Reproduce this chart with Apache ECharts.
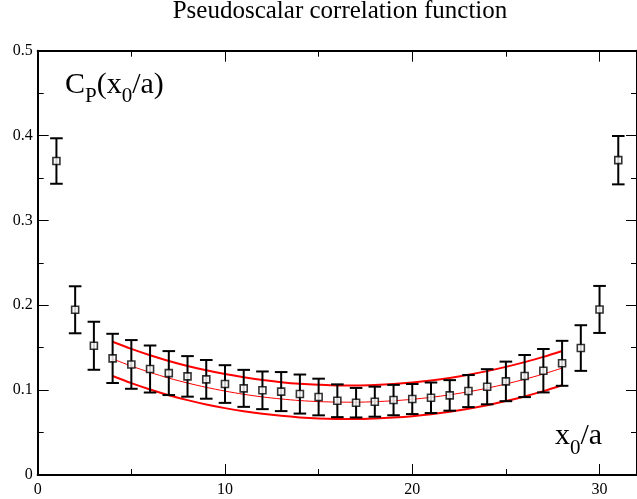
<!DOCTYPE html>
<html>
<head>
<meta charset="utf-8">
<script src="https://cdn.jsdelivr.net/npm/echarts@6/dist/echarts.min.js"></script>
<style>
html,body{margin:0;padding:0;background:#fff;}
#chart{width:637px;height:499px;}
</style>
</head>
<body>
<div id="chart"></div>
<script>
// ---- data ----
const titleText = 'Pseudoscalar correlation function';
const xs = [1,2,3,4,5,6,7,8,9,10,11,12,13,14,15,16,17,18,19,20,21,22,23,24,25,26,27,28,29,30,31];
const cp = [0.370,0.1947,0.1523,0.1374,0.1303,0.1249,0.1201,0.1162,0.1127,0.1072,0.1021,0.0998,0.0983,0.0954,0.0919,0.0875,0.0852,0.0864,0.0883,0.0895,0.0910,0.0938,0.0989,0.1040,0.1103,0.1166,0.1229,0.1316,0.1496,0.1951,0.371];
const err = [0.0268,0.0277,0.0283,0.0290,0.0287,0.0277,0.0259,0.0239,0.0228,0.0222,0.0218,0.0222,0.0230,0.0230,0.0216,0.0193,0.0174,0.0177,0.0179,0.0177,0.0180,0.0180,0.0189,0.0207,0.0233,0.0248,0.0256,0.0265,0.0269,0.0277,0.0285];
const fitX = [4,5,6,7,8,9,10,11,12,13,14,15,16,17,18,19,20,21,22,23,24,25,26,27,28];
const fitUpper = [0.1570,0.1486,0.1411,0.1344,0.1285,0.1234,0.1189,0.1151,0.1119,0.1094,0.1075,0.1063,0.1056,0.1056,0.1061,0.1072,0.1090,0.1114,0.1144,0.1181,0.1224,0.1274,0.1330,0.1392,0.1462];
const fitMid = [0.1368,0.1284,0.1209,0.1142,0.1084,0.1033,0.0989,0.0951,0.0920,0.0896,0.0877,0.0865,0.0859,0.0858,0.0864,0.0875,0.0892,0.0915,0.0945,0.0981,0.1023,0.1073,0.1128,0.1190,0.1260];
const fitLower = [0.1166,0.1082,0.1007,0.0940,0.0882,0.0831,0.0788,0.0751,0.0721,0.0697,0.0679,0.0667,0.0661,0.0660,0.0666,0.0677,0.0693,0.0716,0.0745,0.0780,0.0822,0.0871,0.0926,0.0988,0.1058];
const xTicks = {min:0, max:32, interval:10};
const yTicks = {min:0, max:0.5, interval:0.1};
const yLabelParts = [{t:'C',sub:false},{t:'P',sub:true},{t:'(x',sub:false},{t:'0',sub:true},{t:'/a)',sub:false}];
const xLabelParts = [{t:'x',sub:false},{t:'0',sub:true},{t:'/a',sub:false}];

// ---- helpers ----
const FONT = '"Liberation Serif","Times New Roman",serif';
const mctx = document.createElement('canvas').getContext('2d');
function tw(t, size){ mctx.font = size + 'px ' + FONT; return mctx.measureText(t).width; }
function mathLabel(parts, x0, baseline, big, small, drop){
  let x = x0; const out = [];
  parts.forEach(p => {
    const size = p.sub ? small : big;
    const base = baseline + (p.sub ? drop : 0);
    out.push({type:'text', x:x, y: base - 0.305*size, silent:true,
      style:{text:p.t, fontSize:size, fontFamily:FONT, fill:'#000', align:'left', verticalAlign:'middle'}});
    x += tw(p.t, size);
  });
  return out;
}

const chart = echarts.init(document.getElementById('chart'), null, {renderer:'canvas'});
const axisFont = {fontFamily:FONT, fontSize:16, color:'#000'};

function mkX(pos, showLabel){
  return {type:'value', position:pos, min:xTicks.min, max:xTicks.max, interval:xTicks.interval,
    axisLine:{show:true, onZero:false, lineStyle:{color:'#000', width:2}},
    axisTick:{show:true, inside:true, length:11, lineStyle:{color:'#000', width:1}},
    minorTick:{show:true, splitNumber:2, length:6, lineStyle:{color:'#000', width:1}},
    splitLine:{show:false}, minorSplitLine:{show:false},
    axisLabel:Object.assign({show:showLabel, margin:7, showMaxLabel:false}, axisFont)};
}
function mkY(pos, showLabel){
  return {type:'value', position:pos, min:yTicks.min, max:yTicks.max, interval:yTicks.interval,
    axisLine:{show:true, onZero:false, lineStyle:{color:'#000', width:2}},
    axisTick:{show:true, inside:true, length:11, lineStyle:{color:'#000', width:1}},
    minorTick:{show:true, splitNumber:2, length:6, lineStyle:{color:'#000', width:1}},
    splitLine:{show:false}, minorSplitLine:{show:false},
    axisLabel:Object.assign({show:showLabel, margin:5}, axisFont)};
}

const errData = xs.map((x,i)=>[x, cp[i]-err[i], cp[i]+err[i]]);
const ptData = xs.map((x,i)=>[x, cp[i]]);
function fitLine(arr, w){
  return {type:'line', data:fitX.map((x,i)=>[x, arr[i]]), smooth:0.3, symbol:'none',
    lineStyle:{color:'#ff0000', width:w}, z:2, silent:true};
}

const option = {
  animation:false,
  backgroundColor:'#fff',
  grid:{left:37.7, top:50.7, width:603.2, height:424.3},
  xAxis:[mkX('bottom', true), mkX('top', false)],
  yAxis:[mkY('left', true), mkY('right', false)],
  series:[
    fitLine(fitUpper, 2),
    fitLine(fitLower, 2),
    fitLine(fitMid, 1),
    {type:'custom', data:errData, encode:{x:0, y:[1,2]}, z:3, silent:true,
      renderItem:function(params, api){
        const x = api.value(0), lo = api.value(1), hi = api.value(2);
        const a = api.coord([x, hi]), b = api.coord([x, lo]);
        const hw = 6.3;
        const st = {stroke:'#000', lineWidth:2};
        return {type:'group', children:[
          {type:'line', shape:{x1:a[0], y1:a[1], x2:b[0], y2:b[1]}, style:st},
          {type:'line', shape:{x1:a[0]-hw, y1:a[1], x2:a[0]+hw, y2:a[1]}, style:st},
          {type:'line', shape:{x1:b[0]-hw, y1:b[1], x2:b[0]+hw, y2:b[1]}, style:st}
        ]};
      }},
    {type:'scatter', data:ptData, symbol:'rect', symbolSize:7, z:4, silent:true,
      itemStyle:{color:'#fff', borderColor:'#000', borderWidth:1.6}}
  ],
  graphic:[
    {type:'text', x:340, y:11, silent:true,
      style:{text:titleText, fontSize:25, fontFamily:FONT, fill:'#000', align:'center', verticalAlign:'middle'}}
  ].concat(mathLabel(yLabelParts, 65, 94, 30, 21, 9))
   .concat(mathLabel(xLabelParts, 555, 445, 30, 21, 10))
};
chart.setOption(option);
</script>
</body>
</html>
